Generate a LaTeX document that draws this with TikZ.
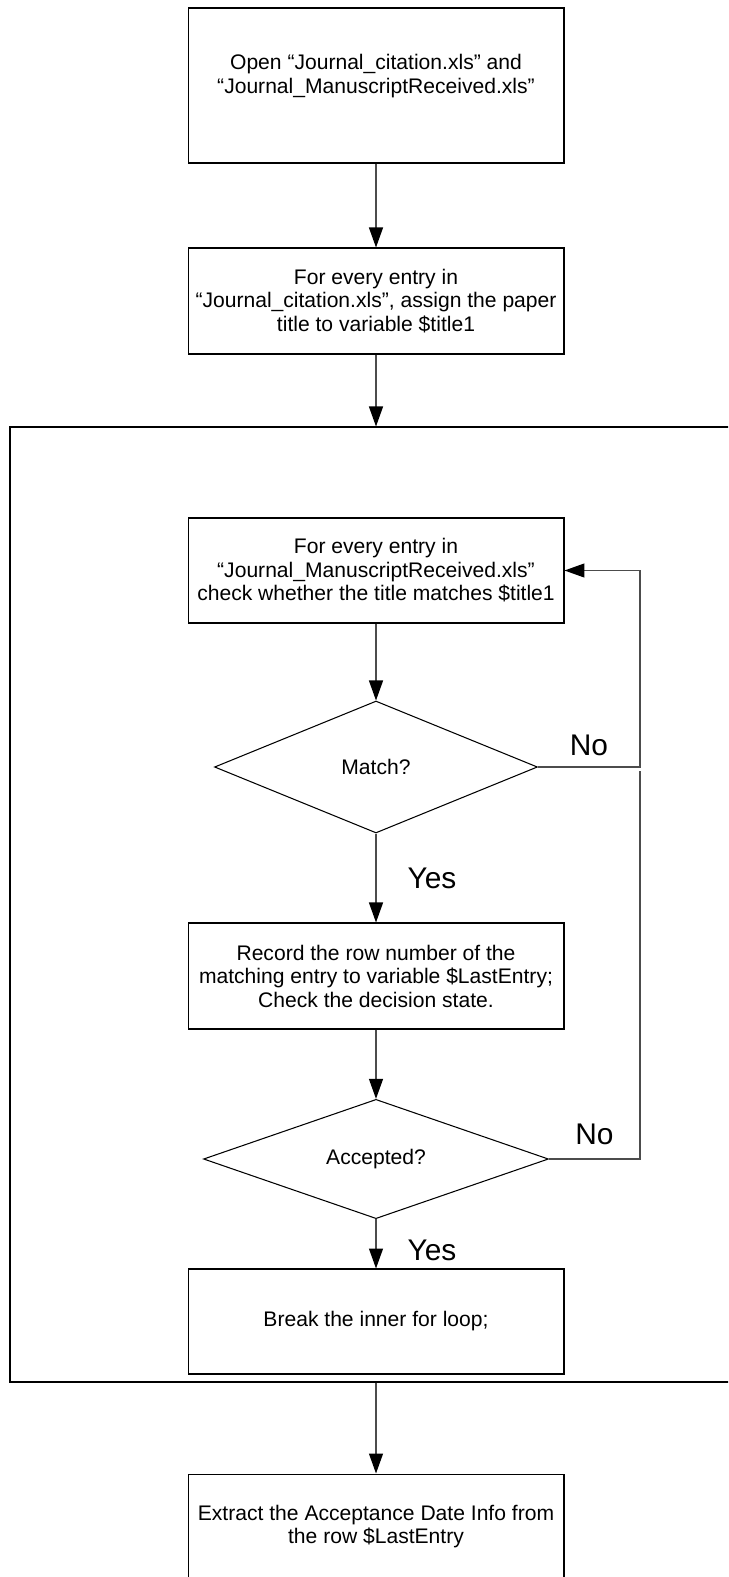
\documentclass[tikz,border=0pt]{standalone}
\usepackage{fontspec}
\setmainfont{Liberation Sans}
\usetikzlibrary{shapes.geometric,arrows.meta}
\begin{document}
\begin{tikzpicture}[x=0.02cm,y=-0.02cm,
		boite/.style={draw,line width=0.6pt,minimum width=7.52cm,minimum height=2.1cm,
			align=center,inner sep=0pt,font=\fontsize{12}{13.4}\selectfont},
		losange/.style={draw,diamond,line width=0.6pt,inner sep=0pt,font=\fontsize{12}{13.4}\selectfont},
		fleche/.style={draw=black!70,line width=0.7pt,-{Triangle[length=0.4cm,width=0.28cm,color=black]}},
		trait/.style={draw=black!70,line width=0.7pt},
		reponse/.style={inner sep=0pt,font=\fontsize{17}{20}\selectfont}]
			\useasboundingbox (0,0) rectangle (728,1577);
			\clip (0,0) rectangle (728,1577);
			\node (Op) at (376,85.5)   [boite,minimum height=3.1cm] {Open “Journal\_citation.xls” and\\
									  “Journal\_ManuscriptReceived.xls”\\ \mbox{}};
			\node (Ti) at (376,301)    [boite,minimum height=2.12cm] {For every entry in\\
									  “Journal\_citation.xls”, assign the paper\\ title to variable \$title1};
			\node (Bo) at (375,904.5)  [draw,line width=0.7pt,minimum width=14.6cm,minimum height=19.1cm] {};
			\node (Ch) at (376,570.5)  [boite] {For every entry in\\ “Journal\_ManuscriptReceived.xls”\\
									  check whether the title matches \$title1};
			\node (Ma) at (376,767)    [losange,minimum width=6.46cm,minimum height=2.64cm] {Match?};
			\node (Re) at (376,976)    [boite,minimum height=2.12cm] {Record the row number of the\\
									  matching entry to variable \$LastEntry;\\ Check the decision state.};
			\node (Ac) at (376,1159)   [losange,minimum width=6.9cm,minimum height=2.08cm] {Accepted?};
			\node (Br) at (376,1321.5) [boite] {Break the inner for loop;};
			\node (Ex) at (376,1526.5) [boite] {Extract the Acceptance Date Info from\\ the row \$LastEntry};
			\coordinate (Bm) at (640,767);
			\coordinate (Ba) at (640,771);
			\draw[fleche] (Op) -- (Ti);
			\draw[fleche] (Ti.south) -- (Ti.south |- Bo.north);
			\draw[fleche] (Ch) -- (Ma);
			\draw[fleche] (Ma) -- node[reponse,right=0.62cm] {Yes} (Re);
			\draw[fleche] (Re) -- (Ac);
			\draw[fleche] (Ac) -- node[reponse,right=0.62cm,yshift=-4] {Yes} (Br);
			\draw[fleche] (Ma.east) -- node[reponse,above=0.22cm] {No} (Bm) |- (Ch.east);
			\draw[trait] (Ac.east) -- node[reponse,above=0.28cm] {No} (Ac.east -| Ba) -- (Ba);
			\draw[fleche] (Bo.south -| Ex) -- (Ex);
		\end{tikzpicture}
\end{document}
